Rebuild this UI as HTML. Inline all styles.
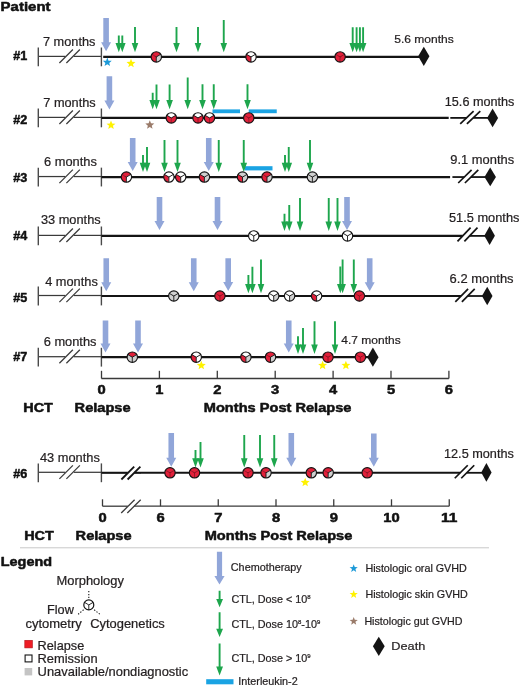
<!DOCTYPE html>
<html><head><meta charset="utf-8"><title>Patient timelines</title>
<style>html,body{margin:0;padding:0;background:#fff;}svg{display:block;}text{fill:#231f20;stroke:#231f20;stroke-width:0.22px;}text[font-weight=bold]{fill:#111;stroke:#111;stroke-width:0.5px;}</style>
</head><body>
<svg width="520" height="687" viewBox="0 0 520 687" font-family="'Liberation Sans', Arial, sans-serif">
<rect width="520" height="687" fill="#ffffff"/>
<text x="0.6" y="11.4" font-size="12.6" font-weight="bold" stroke="#111" stroke-width="0.5" stroke-linejoin="round" textLength="50" lengthAdjust="spacingAndGlyphs" fill="#111">Patient</text>
<line x1="38.3" y1="56.4" x2="65.3" y2="56.4" stroke="#3a3a3a" stroke-width="1.25"/>
<line x1="73.8" y1="56.4" x2="101.3" y2="56.4" stroke="#3a3a3a" stroke-width="1.25"/>
<line x1="59.4" y1="63" x2="72.9" y2="49.5" stroke="#3a3a3a" stroke-width="1.25"/>
<line x1="66.4" y1="63" x2="79.9" y2="49.5" stroke="#3a3a3a" stroke-width="1.25"/>
<line x1="38.3" y1="47.5" x2="38.3" y2="66.3" stroke="#4a4a4a" stroke-width="1.4"/>
<line x1="101.4" y1="47.5" x2="101.4" y2="66.3" stroke="#4a4a4a" stroke-width="1.4"/>
<text x="43" y="45.5" font-size="12.5" textLength="52.4" lengthAdjust="spacingAndGlyphs">7 months</text>
<text x="13.3" y="60.4" font-size="12.6" font-weight="bold" stroke="#111" stroke-width="0.5" stroke-linejoin="round" textLength="14" lengthAdjust="spacingAndGlyphs" fill="#111">#1</text>
<line x1="103.2" y1="56.9" x2="423.8" y2="56.9" stroke="#141414" stroke-width="2.2"/>
<polygon fill="#141414" points="423.8,46.7 429.45,56.3 423.8,65.9 418.15,56.3"/>
<polygon fill="#91a6d9" points="103.3,18 108.9,18 108.9,42.3 111.1,42.3 106.1,51.3 101.1,42.3 103.3,42.3"/>
<polygon fill="#1ea64d" points="117.85,35.4 119.75,35.4 119.75,43 122.1,43 118.8,52.3 115.5,43 117.85,43"/>
<polygon fill="#1ea64d" points="121.35,35.4 123.25,35.4 123.25,43 125.6,43 122.3,52.3 119,43 121.35,43"/>
<polygon fill="#1ea64d" points="134.05,26.9 135.95,26.9 135.95,43 138.3,43 135,52.3 131.7,43 134.05,43"/>
<polygon fill="#1ea64d" points="175.55,27 177.45,27 177.45,43 179.8,43 176.5,52.3 173.2,43 175.55,43"/>
<polygon fill="#1ea64d" points="197.05,27 198.95,27 198.95,43 201.3,43 198,52.3 194.7,43 197.05,43"/>
<polygon fill="#1ea64d" points="222.8,20 224.7,20 224.7,43 227.05,43 223.75,52.3 220.45,43 222.8,43"/>
<polygon fill="#1ea64d" points="351.75,27.2 353.65,27.2 353.65,43 356,43 352.7,52.3 349.4,43 351.75,43"/>
<polygon fill="#1ea64d" points="355.65,27.2 357.55,27.2 357.55,43 359.9,43 356.6,52.3 353.3,43 355.65,43"/>
<polygon fill="#1ea64d" points="358.95,27.2 360.85,27.2 360.85,43 363.2,43 359.9,52.3 356.6,43 358.95,43"/>
<polygon fill="#1ea64d" points="362.15,27.2 364.05,27.2 364.05,43 366.4,43 363.1,52.3 359.8,43 362.15,43"/>
<g>
<path fill="#e2203a" d="M156.3,56.9 L151.8,54.3 A5.2,5.2 0 0 1 160.8,54.3 Z"/>
<path fill="#e2203a" d="M156.3,56.9 L156.3,62.1 A5.2,5.2 0 0 1 151.8,54.3 Z"/>
<path fill="#d0d0d0" d="M156.3,56.9 L160.8,54.3 A5.2,5.2 0 0 1 156.3,62.1 Z"/>
<line x1="156.3" y1="56.9" x2="151.8" y2="54.3" stroke="#8e1222" stroke-width="0.9"/>
<line x1="156.3" y1="56.9" x2="160.8" y2="54.3" stroke="#141414" stroke-width="0.9"/>
<line x1="156.3" y1="56.9" x2="156.3" y2="62.1" stroke="#141414" stroke-width="0.9"/>
<circle cx="156.3" cy="56.9" r="5.2" fill="none" stroke="#141414" stroke-width="1.15"/>
</g>
<g>
<path fill="#ffffff" d="M251,56.9 L246.5,54.3 A5.2,5.2 0 0 1 255.5,54.3 Z"/>
<path fill="#e2203a" d="M251,56.9 L251,62.1 A5.2,5.2 0 0 1 246.5,54.3 Z"/>
<path fill="#ffffff" d="M251,56.9 L255.5,54.3 A5.2,5.2 0 0 1 251,62.1 Z"/>
<line x1="251" y1="56.9" x2="246.5" y2="54.3" stroke="#141414" stroke-width="0.9"/>
<line x1="251" y1="56.9" x2="255.5" y2="54.3" stroke="#141414" stroke-width="0.9"/>
<line x1="251" y1="56.9" x2="251" y2="62.1" stroke="#141414" stroke-width="0.9"/>
<circle cx="251" cy="56.9" r="5.2" fill="none" stroke="#141414" stroke-width="1.15"/>
</g>
<g>
<path fill="#e2203a" d="M340.1,56.9 L335.6,54.3 A5.2,5.2 0 0 1 344.6,54.3 Z"/>
<path fill="#e2203a" d="M340.1,56.9 L340.1,62.1 A5.2,5.2 0 0 1 335.6,54.3 Z"/>
<path fill="#e2203a" d="M340.1,56.9 L344.6,54.3 A5.2,5.2 0 0 1 340.1,62.1 Z"/>
<line x1="340.1" y1="56.9" x2="335.6" y2="54.3" stroke="#8e1222" stroke-width="0.9"/>
<line x1="340.1" y1="56.9" x2="344.6" y2="54.3" stroke="#8e1222" stroke-width="0.9"/>
<line x1="340.1" y1="56.9" x2="340.1" y2="62.1" stroke="#8e1222" stroke-width="0.9"/>
<circle cx="340.1" cy="56.9" r="5.2" fill="none" stroke="#141414" stroke-width="1.15"/>
</g>
<polygon fill="#1d9ad8" points="107.3,57.6 108.5,60.64 111.77,60.85 109.25,62.93 110.06,66.1 107.3,64.35 104.54,66.1 105.35,62.93 102.83,60.85 106.1,60.64"/>
<polygon fill="#fff200" points="131,58.8 132.2,61.84 135.47,62.05 132.95,64.13 133.76,67.3 131,65.55 128.24,67.3 129.05,64.13 126.53,62.05 129.8,61.84"/>
<text x="394.2" y="43.2" font-size="11.6" textLength="59.6" lengthAdjust="spacingAndGlyphs">5.6 months</text>
<line x1="38.3" y1="117.4" x2="65.3" y2="117.4" stroke="#3a3a3a" stroke-width="1.25"/>
<line x1="73.8" y1="117.4" x2="101.3" y2="117.4" stroke="#3a3a3a" stroke-width="1.25"/>
<line x1="59.4" y1="124" x2="72.9" y2="110.5" stroke="#3a3a3a" stroke-width="1.25"/>
<line x1="66.4" y1="124" x2="79.9" y2="110.5" stroke="#3a3a3a" stroke-width="1.25"/>
<line x1="38.3" y1="108.5" x2="38.3" y2="127.3" stroke="#4a4a4a" stroke-width="1.4"/>
<line x1="101.4" y1="108.5" x2="101.4" y2="127.3" stroke="#4a4a4a" stroke-width="1.4"/>
<text x="43.3" y="106.9" font-size="12.5" textLength="52.4" lengthAdjust="spacingAndGlyphs">7 months</text>
<text x="13.3" y="123.8" font-size="12.6" font-weight="bold" stroke="#111" stroke-width="0.5" stroke-linejoin="round" textLength="14" lengthAdjust="spacingAndGlyphs" fill="#111">#2</text>
<line x1="101.4" y1="117.9" x2="448.7" y2="117.9" stroke="#141414" stroke-width="2.2"/>
<line x1="450.3" y1="117.9" x2="466.53" y2="117.9" stroke="#141414" stroke-width="1.8"/>
<line x1="473.23" y1="117.9" x2="492.6" y2="117.9" stroke="#141414" stroke-width="1.8"/>
<line x1="460.2" y1="123.9" x2="473.6" y2="111.2" stroke="#141414" stroke-width="1.7"/>
<line x1="466.9" y1="123.9" x2="480.3" y2="111.2" stroke="#141414" stroke-width="1.7"/>
<polygon fill="#141414" points="492.6,108.5 498.1,117.9 492.6,127.3 487.1,117.9"/>
<rect x="212.5" y="109.4" width="27.5" height="3.8" fill="#1aa3e3"/>
<rect x="248.75" y="109.4" width="28" height="3.8" fill="#1aa3e3"/>
<polygon fill="#91a6d9" points="106.6,76.2 112.2,76.2 112.2,100.4 114.4,100.4 109.4,109.4 104.4,100.4 106.6,100.4"/>
<polygon fill="#1ea64d" points="151.75,92.7 153.65,92.7 153.65,100 156,100 152.7,109.3 149.4,100 151.75,100"/>
<polygon fill="#1ea64d" points="155.55,84.4 157.45,84.4 157.45,100 159.8,100 156.5,109.3 153.2,100 155.55,100"/>
<polygon fill="#1ea64d" points="168.65,84.4 170.55,84.4 170.55,100 172.9,100 169.6,109.3 166.3,100 168.65,100"/>
<polygon fill="#1ea64d" points="186.75,77.4 188.65,77.4 188.65,100 191,100 187.7,109.3 184.4,100 186.75,100"/>
<polygon fill="#1ea64d" points="201.55,84.3 203.45,84.3 203.45,100 205.8,100 202.5,109.3 199.2,100 201.55,100"/>
<polygon fill="#1ea64d" points="212.8,84.3 214.7,84.3 214.7,100 217.05,100 213.75,109.3 210.45,100 212.8,100"/>
<polygon fill="#1ea64d" points="246.55,84.3 248.45,84.3 248.45,100 250.8,100 247.5,109.3 244.2,100 246.55,100"/>
<g>
<path fill="#ffffff" d="M171.3,117.9 L166.8,115.3 A5.2,5.2 0 0 1 175.8,115.3 Z"/>
<path fill="#e2203a" d="M171.3,117.9 L171.3,123.1 A5.2,5.2 0 0 1 166.8,115.3 Z"/>
<path fill="#e2203a" d="M171.3,117.9 L175.8,115.3 A5.2,5.2 0 0 1 171.3,123.1 Z"/>
<line x1="171.3" y1="117.9" x2="166.8" y2="115.3" stroke="#141414" stroke-width="0.9"/>
<line x1="171.3" y1="117.9" x2="175.8" y2="115.3" stroke="#141414" stroke-width="0.9"/>
<line x1="171.3" y1="117.9" x2="171.3" y2="123.1" stroke="#8e1222" stroke-width="0.9"/>
<circle cx="171.3" cy="117.9" r="5.2" fill="none" stroke="#141414" stroke-width="1.15"/>
</g>
<g>
<path fill="#ffffff" d="M198,117.9 L193.5,115.3 A5.2,5.2 0 0 1 202.5,115.3 Z"/>
<path fill="#e2203a" d="M198,117.9 L198,123.1 A5.2,5.2 0 0 1 193.5,115.3 Z"/>
<path fill="#e2203a" d="M198,117.9 L202.5,115.3 A5.2,5.2 0 0 1 198,123.1 Z"/>
<line x1="198" y1="117.9" x2="193.5" y2="115.3" stroke="#141414" stroke-width="0.9"/>
<line x1="198" y1="117.9" x2="202.5" y2="115.3" stroke="#141414" stroke-width="0.9"/>
<line x1="198" y1="117.9" x2="198" y2="123.1" stroke="#8e1222" stroke-width="0.9"/>
<circle cx="198" cy="117.9" r="5.2" fill="none" stroke="#141414" stroke-width="1.15"/>
</g>
<g>
<path fill="#ffffff" d="M209.5,117.9 L205,115.3 A5.2,5.2 0 0 1 214,115.3 Z"/>
<path fill="#e2203a" d="M209.5,117.9 L209.5,123.1 A5.2,5.2 0 0 1 205,115.3 Z"/>
<path fill="#e2203a" d="M209.5,117.9 L214,115.3 A5.2,5.2 0 0 1 209.5,123.1 Z"/>
<line x1="209.5" y1="117.9" x2="205" y2="115.3" stroke="#141414" stroke-width="0.9"/>
<line x1="209.5" y1="117.9" x2="214" y2="115.3" stroke="#141414" stroke-width="0.9"/>
<line x1="209.5" y1="117.9" x2="209.5" y2="123.1" stroke="#8e1222" stroke-width="0.9"/>
<circle cx="209.5" cy="117.9" r="5.2" fill="none" stroke="#141414" stroke-width="1.15"/>
</g>
<g>
<path fill="#e2203a" d="M248.75,117.9 L244.25,115.3 A5.2,5.2 0 0 1 253.25,115.3 Z"/>
<path fill="#e2203a" d="M248.75,117.9 L248.75,123.1 A5.2,5.2 0 0 1 244.25,115.3 Z"/>
<path fill="#e2203a" d="M248.75,117.9 L253.25,115.3 A5.2,5.2 0 0 1 248.75,123.1 Z"/>
<line x1="248.75" y1="117.9" x2="244.25" y2="115.3" stroke="#8e1222" stroke-width="0.9"/>
<line x1="248.75" y1="117.9" x2="253.25" y2="115.3" stroke="#8e1222" stroke-width="0.9"/>
<line x1="248.75" y1="117.9" x2="248.75" y2="123.1" stroke="#8e1222" stroke-width="0.9"/>
<circle cx="248.75" cy="117.9" r="5.2" fill="none" stroke="#141414" stroke-width="1.15"/>
</g>
<polygon fill="#fff200" points="111,120.5 112.2,123.54 115.47,123.75 112.95,125.83 113.76,129 111,127.25 108.24,129 109.05,125.83 106.53,123.75 109.8,123.54"/>
<polygon fill="#9a7b6a" points="149.8,120.3 151,123.34 154.27,123.55 151.75,125.63 152.56,128.8 149.8,127.05 147.04,128.8 147.85,125.63 145.33,123.55 148.6,123.34"/>
<text x="444.8" y="105.8" font-size="12.5" textLength="69.6" lengthAdjust="spacingAndGlyphs">15.6 months</text>
<line x1="38.3" y1="176.55" x2="65.3" y2="176.55" stroke="#3a3a3a" stroke-width="1.25"/>
<line x1="73.8" y1="176.55" x2="101.3" y2="176.55" stroke="#3a3a3a" stroke-width="1.25"/>
<line x1="59.4" y1="183.15" x2="72.9" y2="169.65" stroke="#3a3a3a" stroke-width="1.25"/>
<line x1="66.4" y1="183.15" x2="79.9" y2="169.65" stroke="#3a3a3a" stroke-width="1.25"/>
<line x1="38.3" y1="167.65" x2="38.3" y2="186.45" stroke="#4a4a4a" stroke-width="1.4"/>
<line x1="101.4" y1="167.65" x2="101.4" y2="186.45" stroke="#4a4a4a" stroke-width="1.4"/>
<text x="44" y="165.9" font-size="12.5" textLength="52.8" lengthAdjust="spacingAndGlyphs">6 months</text>
<text x="13.3" y="181.5" font-size="12.6" font-weight="bold" stroke="#111" stroke-width="0.5" stroke-linejoin="round" textLength="14" lengthAdjust="spacingAndGlyphs" fill="#111">#3</text>
<line x1="101.4" y1="177.05" x2="450.1" y2="177.05" stroke="#141414" stroke-width="2.2"/>
<line x1="452.4" y1="177.05" x2="464.29" y2="177.05" stroke="#141414" stroke-width="1.8"/>
<line x1="470.99" y1="177.05" x2="490.2" y2="177.05" stroke="#141414" stroke-width="1.8"/>
<line x1="458.2" y1="183" x2="471.6" y2="169.9" stroke="#141414" stroke-width="1.7"/>
<line x1="464.9" y1="183" x2="478.3" y2="169.9" stroke="#141414" stroke-width="1.7"/>
<polygon fill="#141414" points="490.2,167.5 495.95,176.9 490.2,186.3 484.45,176.9"/>
<rect x="244.5" y="166.2" width="28" height="4.2" fill="#1aa3e3"/>
<polygon fill="#91a6d9" points="129.9,138 135.5,138 135.5,162 137.7,162 132.7,171 127.7,162 129.9,162"/>
<polygon fill="#91a6d9" points="205.95,138 211.55,138 211.55,162 213.75,162 208.75,171 203.75,162 205.95,162"/>
<polygon fill="#1ea64d" points="142.05,155 143.95,155 143.95,162.7 146.3,162.7 143,172 139.7,162.7 142.05,162.7"/>
<polygon fill="#1ea64d" points="146.05,147 147.95,147 147.95,162.7 150.3,162.7 147,172 143.7,162.7 146.05,162.7"/>
<polygon fill="#1ea64d" points="163.55,140 165.45,140 165.45,162.7 167.8,162.7 164.5,172 161.2,162.7 163.55,162.7"/>
<polygon fill="#1ea64d" points="176.55,140 178.45,140 178.45,162.7 180.8,162.7 177.5,172 174.2,162.7 176.55,162.7"/>
<polygon fill="#1ea64d" points="217.8,140 219.7,140 219.7,162.7 222.05,162.7 218.75,172 215.45,162.7 217.8,162.7"/>
<polygon fill="#1ea64d" points="242.8,140 244.7,140 244.7,162.7 247.05,162.7 243.75,172 240.45,162.7 242.8,162.7"/>
<polygon fill="#1ea64d" points="284.05,155 285.95,155 285.95,162.7 288.3,162.7 285,172 281.7,162.7 284.05,162.7"/>
<polygon fill="#1ea64d" points="287.8,147 289.7,147 289.7,162.7 292.05,162.7 288.75,172 285.45,162.7 287.8,162.7"/>
<polygon fill="#1ea64d" points="309.05,140 310.95,140 310.95,162.7 313.3,162.7 310,172 306.7,162.7 309.05,162.7"/>
<g>
<path fill="#e2203a" d="M126.4,177.05 L121.9,174.45 A5.2,5.2 0 0 1 130.9,174.45 Z"/>
<path fill="#e2203a" d="M126.4,177.05 L126.4,182.25 A5.2,5.2 0 0 1 121.9,174.45 Z"/>
<path fill="#ffffff" d="M126.4,177.05 L130.9,174.45 A5.2,5.2 0 0 1 126.4,182.25 Z"/>
<line x1="126.4" y1="177.05" x2="121.9" y2="174.45" stroke="#8e1222" stroke-width="0.9"/>
<line x1="126.4" y1="177.05" x2="130.9" y2="174.45" stroke="#141414" stroke-width="0.9"/>
<line x1="126.4" y1="177.05" x2="126.4" y2="182.25" stroke="#141414" stroke-width="0.9"/>
<circle cx="126.4" cy="177.05" r="5.2" fill="none" stroke="#141414" stroke-width="1.15"/>
</g>
<g>
<path fill="#ffffff" d="M168.9,177.05 L164.4,174.45 A5.2,5.2 0 0 1 173.4,174.45 Z"/>
<path fill="#e2203a" d="M168.9,177.05 L168.9,182.25 A5.2,5.2 0 0 1 164.4,174.45 Z"/>
<path fill="#ffffff" d="M168.9,177.05 L173.4,174.45 A5.2,5.2 0 0 1 168.9,182.25 Z"/>
<line x1="168.9" y1="177.05" x2="164.4" y2="174.45" stroke="#141414" stroke-width="0.9"/>
<line x1="168.9" y1="177.05" x2="173.4" y2="174.45" stroke="#141414" stroke-width="0.9"/>
<line x1="168.9" y1="177.05" x2="168.9" y2="182.25" stroke="#141414" stroke-width="0.9"/>
<circle cx="168.9" cy="177.05" r="5.2" fill="none" stroke="#141414" stroke-width="1.15"/>
</g>
<g>
<path fill="#ffffff" d="M180.7,177.05 L176.2,174.45 A5.2,5.2 0 0 1 185.2,174.45 Z"/>
<path fill="#e2203a" d="M180.7,177.05 L180.7,182.25 A5.2,5.2 0 0 1 176.2,174.45 Z"/>
<path fill="#ffffff" d="M180.7,177.05 L185.2,174.45 A5.2,5.2 0 0 1 180.7,182.25 Z"/>
<line x1="180.7" y1="177.05" x2="176.2" y2="174.45" stroke="#141414" stroke-width="0.9"/>
<line x1="180.7" y1="177.05" x2="185.2" y2="174.45" stroke="#141414" stroke-width="0.9"/>
<line x1="180.7" y1="177.05" x2="180.7" y2="182.25" stroke="#141414" stroke-width="0.9"/>
<circle cx="180.7" cy="177.05" r="5.2" fill="none" stroke="#141414" stroke-width="1.15"/>
</g>
<g>
<path fill="#d0d0d0" d="M204.4,177.05 L199.9,174.45 A5.2,5.2 0 0 1 208.9,174.45 Z"/>
<path fill="#e2203a" d="M204.4,177.05 L204.4,182.25 A5.2,5.2 0 0 1 199.9,174.45 Z"/>
<path fill="#d0d0d0" d="M204.4,177.05 L208.9,174.45 A5.2,5.2 0 0 1 204.4,182.25 Z"/>
<line x1="204.4" y1="177.05" x2="199.9" y2="174.45" stroke="#141414" stroke-width="0.9"/>
<line x1="204.4" y1="177.05" x2="208.9" y2="174.45" stroke="#141414" stroke-width="0.9"/>
<line x1="204.4" y1="177.05" x2="204.4" y2="182.25" stroke="#141414" stroke-width="0.9"/>
<circle cx="204.4" cy="177.05" r="5.2" fill="none" stroke="#141414" stroke-width="1.15"/>
</g>
<g>
<path fill="#d0d0d0" d="M242.5,177.05 L238,174.45 A5.2,5.2 0 0 1 247,174.45 Z"/>
<path fill="#e2203a" d="M242.5,177.05 L242.5,182.25 A5.2,5.2 0 0 1 238,174.45 Z"/>
<path fill="#d0d0d0" d="M242.5,177.05 L247,174.45 A5.2,5.2 0 0 1 242.5,182.25 Z"/>
<line x1="242.5" y1="177.05" x2="238" y2="174.45" stroke="#141414" stroke-width="0.9"/>
<line x1="242.5" y1="177.05" x2="247" y2="174.45" stroke="#141414" stroke-width="0.9"/>
<line x1="242.5" y1="177.05" x2="242.5" y2="182.25" stroke="#141414" stroke-width="0.9"/>
<circle cx="242.5" cy="177.05" r="5.2" fill="none" stroke="#141414" stroke-width="1.15"/>
</g>
<g>
<path fill="#e2203a" d="M267,177.05 L262.5,174.45 A5.2,5.2 0 0 1 271.5,174.45 Z"/>
<path fill="#e2203a" d="M267,177.05 L267,182.25 A5.2,5.2 0 0 1 262.5,174.45 Z"/>
<path fill="#d0d0d0" d="M267,177.05 L271.5,174.45 A5.2,5.2 0 0 1 267,182.25 Z"/>
<line x1="267" y1="177.05" x2="262.5" y2="174.45" stroke="#8e1222" stroke-width="0.9"/>
<line x1="267" y1="177.05" x2="271.5" y2="174.45" stroke="#141414" stroke-width="0.9"/>
<line x1="267" y1="177.05" x2="267" y2="182.25" stroke="#141414" stroke-width="0.9"/>
<circle cx="267" cy="177.05" r="5.2" fill="none" stroke="#141414" stroke-width="1.15"/>
</g>
<g>
<path fill="#d0d0d0" d="M312.4,177.05 L307.9,174.45 A5.2,5.2 0 0 1 316.9,174.45 Z"/>
<path fill="#d0d0d0" d="M312.4,177.05 L312.4,182.25 A5.2,5.2 0 0 1 307.9,174.45 Z"/>
<path fill="#d0d0d0" d="M312.4,177.05 L316.9,174.45 A5.2,5.2 0 0 1 312.4,182.25 Z"/>
<line x1="312.4" y1="177.05" x2="307.9" y2="174.45" stroke="#141414" stroke-width="0.9"/>
<line x1="312.4" y1="177.05" x2="316.9" y2="174.45" stroke="#141414" stroke-width="0.9"/>
<line x1="312.4" y1="177.05" x2="312.4" y2="182.25" stroke="#141414" stroke-width="0.9"/>
<circle cx="312.4" cy="177.05" r="5.2" fill="none" stroke="#141414" stroke-width="1.15"/>
</g>
<text x="450.3" y="164.2" font-size="12.5" textLength="63.8" lengthAdjust="spacingAndGlyphs">9.1 months</text>
<line x1="38.3" y1="235.4" x2="65.3" y2="235.4" stroke="#3a3a3a" stroke-width="1.25"/>
<line x1="73.8" y1="235.4" x2="101.3" y2="235.4" stroke="#3a3a3a" stroke-width="1.25"/>
<line x1="59.4" y1="242" x2="72.9" y2="228.5" stroke="#3a3a3a" stroke-width="1.25"/>
<line x1="66.4" y1="242" x2="79.9" y2="228.5" stroke="#3a3a3a" stroke-width="1.25"/>
<line x1="38.3" y1="226.5" x2="38.3" y2="245.3" stroke="#4a4a4a" stroke-width="1.4"/>
<line x1="101.4" y1="226.5" x2="101.4" y2="245.3" stroke="#4a4a4a" stroke-width="1.4"/>
<text x="40.9" y="224.4" font-size="12.5" textLength="59.8" lengthAdjust="spacingAndGlyphs">33 months</text>
<text x="13.3" y="239.5" font-size="12.6" font-weight="bold" stroke="#111" stroke-width="0.5" stroke-linejoin="round" textLength="14" lengthAdjust="spacingAndGlyphs" fill="#111">#4</text>
<line x1="101.4" y1="235.9" x2="462.72" y2="235.9" stroke="#141414" stroke-width="2.1"/>
<line x1="469.62" y1="235.9" x2="489.6" y2="235.9" stroke="#141414" stroke-width="1.8"/>
<line x1="457.5" y1="241.4" x2="470.6" y2="227.6" stroke="#141414" stroke-width="1.7"/>
<line x1="464.4" y1="241.4" x2="477.5" y2="227.6" stroke="#141414" stroke-width="1.7"/>
<polygon fill="#141414" points="489.6,226.35 494.9,235.7 489.6,245.05 484.3,235.7"/>
<polygon fill="#91a6d9" points="156.7,197 162.3,197 162.3,221 164.5,221 159.5,230 154.5,221 156.7,221"/>
<polygon fill="#91a6d9" points="214.7,197 220.3,197 220.3,221 222.5,221 217.5,230 212.5,221 214.7,221"/>
<polygon fill="#91a6d9" points="344.2,197 349.8,197 349.8,221 352,221 347,230 342,221 344.2,221"/>
<polygon fill="#1ea64d" points="283.55,213.8 285.45,213.8 285.45,221.6 287.8,221.6 284.5,230.9 281.2,221.6 283.55,221.6"/>
<polygon fill="#1ea64d" points="288.3,205 290.2,205 290.2,221.6 292.55,221.6 289.25,230.9 285.95,221.6 288.3,221.6"/>
<polygon fill="#1ea64d" points="299.05,198 300.95,198 300.95,221.6 303.3,221.6 300,230.9 296.7,221.6 299.05,221.6"/>
<polygon fill="#1ea64d" points="327.8,198 329.7,198 329.7,221.6 332.05,221.6 328.75,230.9 325.45,221.6 327.8,221.6"/>
<polygon fill="#1ea64d" points="336.55,198 338.45,198 338.45,221.6 340.8,221.6 337.5,230.9 334.2,221.6 336.55,221.6"/>
<g>
<path fill="#ffffff" d="M253.75,235.9 L249.25,233.3 A5.2,5.2 0 0 1 258.25,233.3 Z"/>
<path fill="#ffffff" d="M253.75,235.9 L253.75,241.1 A5.2,5.2 0 0 1 249.25,233.3 Z"/>
<path fill="#ffffff" d="M253.75,235.9 L258.25,233.3 A5.2,5.2 0 0 1 253.75,241.1 Z"/>
<line x1="253.75" y1="235.9" x2="249.25" y2="233.3" stroke="#141414" stroke-width="0.9"/>
<line x1="253.75" y1="235.9" x2="258.25" y2="233.3" stroke="#141414" stroke-width="0.9"/>
<line x1="253.75" y1="235.9" x2="253.75" y2="241.1" stroke="#141414" stroke-width="0.9"/>
<circle cx="253.75" cy="235.9" r="5.2" fill="none" stroke="#141414" stroke-width="1.15"/>
</g>
<g>
<path fill="#ffffff" d="M347.5,235.9 L343,233.3 A5.2,5.2 0 0 1 352,233.3 Z"/>
<path fill="#ffffff" d="M347.5,235.9 L347.5,241.1 A5.2,5.2 0 0 1 343,233.3 Z"/>
<path fill="#ffffff" d="M347.5,235.9 L352,233.3 A5.2,5.2 0 0 1 347.5,241.1 Z"/>
<line x1="347.5" y1="235.9" x2="343" y2="233.3" stroke="#141414" stroke-width="0.9"/>
<line x1="347.5" y1="235.9" x2="352" y2="233.3" stroke="#141414" stroke-width="0.9"/>
<line x1="347.5" y1="235.9" x2="347.5" y2="241.1" stroke="#141414" stroke-width="0.9"/>
<circle cx="347.5" cy="235.9" r="5.2" fill="none" stroke="#141414" stroke-width="1.15"/>
</g>
<text x="449" y="222" font-size="12.5" textLength="70.4" lengthAdjust="spacingAndGlyphs">51.5 months</text>
<line x1="38.3" y1="295.5" x2="65.3" y2="295.5" stroke="#3a3a3a" stroke-width="1.25"/>
<line x1="73.8" y1="295.5" x2="101.3" y2="295.5" stroke="#3a3a3a" stroke-width="1.25"/>
<line x1="59.4" y1="302.1" x2="72.9" y2="288.6" stroke="#3a3a3a" stroke-width="1.25"/>
<line x1="66.4" y1="302.1" x2="79.9" y2="288.6" stroke="#3a3a3a" stroke-width="1.25"/>
<line x1="38.3" y1="286.6" x2="38.3" y2="305.4" stroke="#4a4a4a" stroke-width="1.4"/>
<line x1="101.4" y1="286.6" x2="101.4" y2="305.4" stroke="#4a4a4a" stroke-width="1.4"/>
<text x="45.2" y="285.5" font-size="12.5" textLength="52.6" lengthAdjust="spacingAndGlyphs">4 months</text>
<text x="13.3" y="301.5" font-size="12.6" font-weight="bold" stroke="#111" stroke-width="0.5" stroke-linejoin="round" textLength="14" lengthAdjust="spacingAndGlyphs" fill="#111">#5</text>
<line x1="101.4" y1="296" x2="461.06" y2="296" stroke="#141414" stroke-width="2.1"/>
<line x1="467.66" y1="296" x2="487.2" y2="296" stroke="#141414" stroke-width="1.8"/>
<line x1="455.3" y1="301.8" x2="468.1" y2="288.9" stroke="#141414" stroke-width="1.7"/>
<line x1="461.9" y1="301.8" x2="474.7" y2="288.9" stroke="#141414" stroke-width="1.7"/>
<polygon fill="#141414" points="487.2,286.85 492.5,296 487.2,305.15 481.9,296"/>
<polygon fill="#91a6d9" points="103.45,258.3 109.05,258.3 109.05,282.2 111.25,282.2 106.25,291.2 101.25,282.2 103.45,282.2"/>
<polygon fill="#91a6d9" points="190.95,258.3 196.55,258.3 196.55,282.2 198.75,282.2 193.75,291.2 188.75,282.2 190.95,282.2"/>
<polygon fill="#91a6d9" points="225.4,258.3 231,258.3 231,282 233.2,282 228.2,291 223.2,282 225.4,282"/>
<polygon fill="#91a6d9" points="366.9,258.3 372.5,258.3 372.5,282.2 374.7,282.2 369.7,291.2 364.7,282.2 366.9,282.2"/>
<polygon fill="#1ea64d" points="247.45,275.1 249.35,275.1 249.35,283.9 251.7,283.9 248.4,293.2 245.1,283.9 247.45,283.9"/>
<polygon fill="#1ea64d" points="251.45,266.8 253.35,266.8 253.35,283.9 255.7,283.9 252.4,293.2 249.1,283.9 251.45,283.9"/>
<polygon fill="#1ea64d" points="260.05,259.5 261.95,259.5 261.95,283.9 264.3,283.9 261,293.2 257.7,283.9 260.05,283.9"/>
<polygon fill="#1ea64d" points="339.35,266.4 341.25,266.4 341.25,283.9 343.6,283.9 340.3,293.2 337,283.9 339.35,283.9"/>
<polygon fill="#1ea64d" points="341.65,259.5 343.55,259.5 343.55,283.9 345.9,283.9 342.6,293.2 339.3,283.9 341.65,283.9"/>
<polygon fill="#1ea64d" points="352.85,259.5 354.75,259.5 354.75,283.9 357.1,283.9 353.8,293.2 350.5,283.9 352.85,283.9"/>
<g>
<path fill="#d0d0d0" d="M173.8,296 L169.3,293.4 A5.2,5.2 0 0 1 178.3,293.4 Z"/>
<path fill="#d0d0d0" d="M173.8,296 L173.8,301.2 A5.2,5.2 0 0 1 169.3,293.4 Z"/>
<path fill="#d0d0d0" d="M173.8,296 L178.3,293.4 A5.2,5.2 0 0 1 173.8,301.2 Z"/>
<line x1="173.8" y1="296" x2="169.3" y2="293.4" stroke="#141414" stroke-width="0.9"/>
<line x1="173.8" y1="296" x2="178.3" y2="293.4" stroke="#141414" stroke-width="0.9"/>
<line x1="173.8" y1="296" x2="173.8" y2="301.2" stroke="#141414" stroke-width="0.9"/>
<circle cx="173.8" cy="296" r="5.2" fill="none" stroke="#141414" stroke-width="1.15"/>
</g>
<g>
<path fill="#e2203a" d="M219.9,296 L215.4,293.4 A5.2,5.2 0 0 1 224.4,293.4 Z"/>
<path fill="#e2203a" d="M219.9,296 L219.9,301.2 A5.2,5.2 0 0 1 215.4,293.4 Z"/>
<path fill="#e2203a" d="M219.9,296 L224.4,293.4 A5.2,5.2 0 0 1 219.9,301.2 Z"/>
<line x1="219.9" y1="296" x2="215.4" y2="293.4" stroke="#8e1222" stroke-width="0.9"/>
<line x1="219.9" y1="296" x2="224.4" y2="293.4" stroke="#8e1222" stroke-width="0.9"/>
<line x1="219.9" y1="296" x2="219.9" y2="301.2" stroke="#8e1222" stroke-width="0.9"/>
<circle cx="219.9" cy="296" r="5.2" fill="none" stroke="#141414" stroke-width="1.15"/>
</g>
<g>
<path fill="#ffffff" d="M273.7,296 L269.2,293.4 A5.2,5.2 0 0 1 278.2,293.4 Z"/>
<path fill="#ffffff" d="M273.7,296 L273.7,301.2 A5.2,5.2 0 0 1 269.2,293.4 Z"/>
<path fill="#d0d0d0" d="M273.7,296 L278.2,293.4 A5.2,5.2 0 0 1 273.7,301.2 Z"/>
<line x1="273.7" y1="296" x2="269.2" y2="293.4" stroke="#141414" stroke-width="0.9"/>
<line x1="273.7" y1="296" x2="278.2" y2="293.4" stroke="#141414" stroke-width="0.9"/>
<line x1="273.7" y1="296" x2="273.7" y2="301.2" stroke="#141414" stroke-width="0.9"/>
<circle cx="273.7" cy="296" r="5.2" fill="none" stroke="#141414" stroke-width="1.15"/>
</g>
<g>
<path fill="#ffffff" d="M289.6,296 L285.1,293.4 A5.2,5.2 0 0 1 294.1,293.4 Z"/>
<path fill="#ffffff" d="M289.6,296 L289.6,301.2 A5.2,5.2 0 0 1 285.1,293.4 Z"/>
<path fill="#d0d0d0" d="M289.6,296 L294.1,293.4 A5.2,5.2 0 0 1 289.6,301.2 Z"/>
<line x1="289.6" y1="296" x2="285.1" y2="293.4" stroke="#141414" stroke-width="0.9"/>
<line x1="289.6" y1="296" x2="294.1" y2="293.4" stroke="#141414" stroke-width="0.9"/>
<line x1="289.6" y1="296" x2="289.6" y2="301.2" stroke="#141414" stroke-width="0.9"/>
<circle cx="289.6" cy="296" r="5.2" fill="none" stroke="#141414" stroke-width="1.15"/>
</g>
<g>
<path fill="#ffffff" d="M316.6,296 L312.1,293.4 A5.2,5.2 0 0 1 321.1,293.4 Z"/>
<path fill="#e2203a" d="M316.6,296 L316.6,301.2 A5.2,5.2 0 0 1 312.1,293.4 Z"/>
<path fill="#ffffff" d="M316.6,296 L321.1,293.4 A5.2,5.2 0 0 1 316.6,301.2 Z"/>
<line x1="316.6" y1="296" x2="312.1" y2="293.4" stroke="#141414" stroke-width="0.9"/>
<line x1="316.6" y1="296" x2="321.1" y2="293.4" stroke="#141414" stroke-width="0.9"/>
<line x1="316.6" y1="296" x2="316.6" y2="301.2" stroke="#141414" stroke-width="0.9"/>
<circle cx="316.6" cy="296" r="5.2" fill="none" stroke="#141414" stroke-width="1.15"/>
</g>
<g>
<path fill="#e2203a" d="M359.4,296 L354.9,293.4 A5.2,5.2 0 0 1 363.9,293.4 Z"/>
<path fill="#e2203a" d="M359.4,296 L359.4,301.2 A5.2,5.2 0 0 1 354.9,293.4 Z"/>
<path fill="#e2203a" d="M359.4,296 L363.9,293.4 A5.2,5.2 0 0 1 359.4,301.2 Z"/>
<line x1="359.4" y1="296" x2="354.9" y2="293.4" stroke="#8e1222" stroke-width="0.9"/>
<line x1="359.4" y1="296" x2="363.9" y2="293.4" stroke="#8e1222" stroke-width="0.9"/>
<line x1="359.4" y1="296" x2="359.4" y2="301.2" stroke="#8e1222" stroke-width="0.9"/>
<circle cx="359.4" cy="296" r="5.2" fill="none" stroke="#141414" stroke-width="1.15"/>
</g>
<text x="449.6" y="283.1" font-size="12.5" textLength="64" lengthAdjust="spacingAndGlyphs">6.2 months</text>
<line x1="38.3" y1="356.7" x2="65.3" y2="356.7" stroke="#3a3a3a" stroke-width="1.25"/>
<line x1="73.8" y1="356.7" x2="101.3" y2="356.7" stroke="#3a3a3a" stroke-width="1.25"/>
<line x1="59.4" y1="363.3" x2="72.9" y2="349.8" stroke="#3a3a3a" stroke-width="1.25"/>
<line x1="66.4" y1="363.3" x2="79.9" y2="349.8" stroke="#3a3a3a" stroke-width="1.25"/>
<line x1="38.3" y1="347.8" x2="38.3" y2="366.6" stroke="#4a4a4a" stroke-width="1.4"/>
<line x1="101.4" y1="347.8" x2="101.4" y2="366.6" stroke="#4a4a4a" stroke-width="1.4"/>
<text x="43.7" y="345.7" font-size="12.5" textLength="52.8" lengthAdjust="spacingAndGlyphs">6 months</text>
<text x="13.3" y="360.8" font-size="12.6" font-weight="bold" stroke="#111" stroke-width="0.5" stroke-linejoin="round" textLength="14" lengthAdjust="spacingAndGlyphs" fill="#111">#7</text>
<line x1="101.4" y1="357.2" x2="372.9" y2="357.2" stroke="#141414" stroke-width="2.2"/>
<polygon fill="#141414" points="372.9,347.6 378.55,357.2 372.9,366.8 367.25,357.2"/>
<polygon fill="#91a6d9" points="102.7,320.5 108.3,320.5 108.3,343.5 110.5,343.5 105.5,352.5 100.5,343.5 102.7,343.5"/>
<polygon fill="#91a6d9" points="135.2,320.5 140.8,320.5 140.8,343.5 143,343.5 138,352.5 133,343.5 135.2,343.5"/>
<polygon fill="#91a6d9" points="285.95,320.5 291.55,320.5 291.55,343.5 293.75,343.5 288.75,352.5 283.75,343.5 285.95,343.5"/>
<polygon fill="#1ea64d" points="297.05,336.3 298.95,336.3 298.95,344.6 301.3,344.6 298,353.9 294.7,344.6 297.05,344.6"/>
<polygon fill="#1ea64d" points="302.05,328 303.95,328 303.95,344.6 306.3,344.6 303,353.9 299.7,344.6 302.05,344.6"/>
<polygon fill="#1ea64d" points="313.55,321.3 315.45,321.3 315.45,344.6 317.8,344.6 314.5,353.9 311.2,344.6 313.55,344.6"/>
<polygon fill="#1ea64d" points="334.05,321.2 335.95,321.2 335.95,344.6 338.3,344.6 335,353.9 331.7,344.6 334.05,344.6"/>
<g>
<path fill="#e2203a" d="M132.3,357.2 L127.8,354.6 A5.2,5.2 0 0 1 136.8,354.6 Z"/>
<path fill="#d0d0d0" d="M132.3,357.2 L132.3,362.4 A5.2,5.2 0 0 1 127.8,354.6 Z"/>
<path fill="#d0d0d0" d="M132.3,357.2 L136.8,354.6 A5.2,5.2 0 0 1 132.3,362.4 Z"/>
<line x1="132.3" y1="357.2" x2="127.8" y2="354.6" stroke="#141414" stroke-width="0.9"/>
<line x1="132.3" y1="357.2" x2="136.8" y2="354.6" stroke="#141414" stroke-width="0.9"/>
<line x1="132.3" y1="357.2" x2="132.3" y2="362.4" stroke="#141414" stroke-width="0.9"/>
<circle cx="132.3" cy="357.2" r="5.2" fill="none" stroke="#141414" stroke-width="1.15"/>
</g>
<g>
<path fill="#ffffff" d="M196.25,357.2 L191.75,354.6 A5.2,5.2 0 0 1 200.75,354.6 Z"/>
<path fill="#e2203a" d="M196.25,357.2 L196.25,362.4 A5.2,5.2 0 0 1 191.75,354.6 Z"/>
<path fill="#ffffff" d="M196.25,357.2 L200.75,354.6 A5.2,5.2 0 0 1 196.25,362.4 Z"/>
<line x1="196.25" y1="357.2" x2="191.75" y2="354.6" stroke="#141414" stroke-width="0.9"/>
<line x1="196.25" y1="357.2" x2="200.75" y2="354.6" stroke="#141414" stroke-width="0.9"/>
<line x1="196.25" y1="357.2" x2="196.25" y2="362.4" stroke="#141414" stroke-width="0.9"/>
<circle cx="196.25" cy="357.2" r="5.2" fill="none" stroke="#141414" stroke-width="1.15"/>
</g>
<g>
<path fill="#ffffff" d="M245.9,357.2 L241.4,354.6 A5.2,5.2 0 0 1 250.4,354.6 Z"/>
<path fill="#e2203a" d="M245.9,357.2 L245.9,362.4 A5.2,5.2 0 0 1 241.4,354.6 Z"/>
<path fill="#d0d0d0" d="M245.9,357.2 L250.4,354.6 A5.2,5.2 0 0 1 245.9,362.4 Z"/>
<line x1="245.9" y1="357.2" x2="241.4" y2="354.6" stroke="#141414" stroke-width="0.9"/>
<line x1="245.9" y1="357.2" x2="250.4" y2="354.6" stroke="#141414" stroke-width="0.9"/>
<line x1="245.9" y1="357.2" x2="245.9" y2="362.4" stroke="#141414" stroke-width="0.9"/>
<circle cx="245.9" cy="357.2" r="5.2" fill="none" stroke="#141414" stroke-width="1.15"/>
</g>
<g>
<path fill="#e2203a" d="M270.5,357.2 L266,354.6 A5.2,5.2 0 0 1 275,354.6 Z"/>
<path fill="#e2203a" d="M270.5,357.2 L270.5,362.4 A5.2,5.2 0 0 1 266,354.6 Z"/>
<path fill="#d0d0d0" d="M270.5,357.2 L275,354.6 A5.2,5.2 0 0 1 270.5,362.4 Z"/>
<line x1="270.5" y1="357.2" x2="266" y2="354.6" stroke="#8e1222" stroke-width="0.9"/>
<line x1="270.5" y1="357.2" x2="275" y2="354.6" stroke="#141414" stroke-width="0.9"/>
<line x1="270.5" y1="357.2" x2="270.5" y2="362.4" stroke="#141414" stroke-width="0.9"/>
<circle cx="270.5" cy="357.2" r="5.2" fill="none" stroke="#141414" stroke-width="1.15"/>
</g>
<g>
<path fill="#e2203a" d="M328,357.2 L323.5,354.6 A5.2,5.2 0 0 1 332.5,354.6 Z"/>
<path fill="#e2203a" d="M328,357.2 L328,362.4 A5.2,5.2 0 0 1 323.5,354.6 Z"/>
<path fill="#e2203a" d="M328,357.2 L332.5,354.6 A5.2,5.2 0 0 1 328,362.4 Z"/>
<line x1="328" y1="357.2" x2="323.5" y2="354.6" stroke="#8e1222" stroke-width="0.9"/>
<line x1="328" y1="357.2" x2="332.5" y2="354.6" stroke="#8e1222" stroke-width="0.9"/>
<line x1="328" y1="357.2" x2="328" y2="362.4" stroke="#8e1222" stroke-width="0.9"/>
<circle cx="328" cy="357.2" r="5.2" fill="none" stroke="#141414" stroke-width="1.15"/>
</g>
<g>
<path fill="#e2203a" d="M360.4,357.2 L355.9,354.6 A5.2,5.2 0 0 1 364.9,354.6 Z"/>
<path fill="#e2203a" d="M360.4,357.2 L360.4,362.4 A5.2,5.2 0 0 1 355.9,354.6 Z"/>
<path fill="#e2203a" d="M360.4,357.2 L364.9,354.6 A5.2,5.2 0 0 1 360.4,362.4 Z"/>
<line x1="360.4" y1="357.2" x2="355.9" y2="354.6" stroke="#8e1222" stroke-width="0.9"/>
<line x1="360.4" y1="357.2" x2="364.9" y2="354.6" stroke="#8e1222" stroke-width="0.9"/>
<line x1="360.4" y1="357.2" x2="360.4" y2="362.4" stroke="#8e1222" stroke-width="0.9"/>
<circle cx="360.4" cy="357.2" r="5.2" fill="none" stroke="#141414" stroke-width="1.15"/>
</g>
<polygon fill="#fff200" points="201.3,360.8 202.5,363.84 205.77,364.05 203.25,366.13 204.06,369.3 201.3,367.55 198.54,369.3 199.35,366.13 196.83,364.05 200.1,363.84"/>
<polygon fill="#fff200" points="322.6,360.7 323.8,363.74 327.07,363.95 324.55,366.03 325.36,369.2 322.6,367.45 319.84,369.2 320.65,366.03 318.13,363.95 321.4,363.74"/>
<polygon fill="#fff200" points="345.9,360.7 347.1,363.74 350.37,363.95 347.85,366.03 348.66,369.2 345.9,367.45 343.14,369.2 343.95,366.03 341.43,363.95 344.7,363.74"/>
<text x="341.3" y="344.1" font-size="11.6" textLength="59.4" lengthAdjust="spacingAndGlyphs">4.7 months</text>
<line x1="101.4" y1="378.5" x2="448.9" y2="378.5" stroke="#3a3a3a" stroke-width="1.3"/>
<line x1="101.5" y1="370.8" x2="101.5" y2="378.5" stroke="#3a3a3a" stroke-width="1.3"/>
<text x="101.5" y="394.3" font-size="12.6" font-weight="bold" stroke="#111" stroke-width="0.5" stroke-linejoin="round" textLength="8.2" lengthAdjust="spacingAndGlyphs" text-anchor="middle" fill="#111">0</text>
<line x1="159.4" y1="370.8" x2="159.4" y2="378.5" stroke="#3a3a3a" stroke-width="1.3"/>
<text x="159.4" y="394.3" font-size="12.6" font-weight="bold" stroke="#111" stroke-width="0.5" stroke-linejoin="round" textLength="8.2" lengthAdjust="spacingAndGlyphs" text-anchor="middle" fill="#111">1</text>
<line x1="217.3" y1="370.8" x2="217.3" y2="378.5" stroke="#3a3a3a" stroke-width="1.3"/>
<text x="217.3" y="394.3" font-size="12.6" font-weight="bold" stroke="#111" stroke-width="0.5" stroke-linejoin="round" textLength="8.2" lengthAdjust="spacingAndGlyphs" text-anchor="middle" fill="#111">2</text>
<line x1="275.2" y1="370.8" x2="275.2" y2="378.5" stroke="#3a3a3a" stroke-width="1.3"/>
<text x="275.2" y="394.3" font-size="12.6" font-weight="bold" stroke="#111" stroke-width="0.5" stroke-linejoin="round" textLength="8.2" lengthAdjust="spacingAndGlyphs" text-anchor="middle" fill="#111">3</text>
<line x1="333.1" y1="370.8" x2="333.1" y2="378.5" stroke="#3a3a3a" stroke-width="1.3"/>
<text x="333.1" y="394.3" font-size="12.6" font-weight="bold" stroke="#111" stroke-width="0.5" stroke-linejoin="round" textLength="8.2" lengthAdjust="spacingAndGlyphs" text-anchor="middle" fill="#111">4</text>
<line x1="391" y1="370.8" x2="391" y2="378.5" stroke="#3a3a3a" stroke-width="1.3"/>
<text x="391" y="394.3" font-size="12.6" font-weight="bold" stroke="#111" stroke-width="0.5" stroke-linejoin="round" textLength="8.2" lengthAdjust="spacingAndGlyphs" text-anchor="middle" fill="#111">5</text>
<line x1="448.9" y1="370.8" x2="448.9" y2="378.5" stroke="#3a3a3a" stroke-width="1.3"/>
<text x="448.9" y="394.3" font-size="12.6" font-weight="bold" stroke="#111" stroke-width="0.5" stroke-linejoin="round" textLength="8.2" lengthAdjust="spacingAndGlyphs" text-anchor="middle" fill="#111">6</text>
<text x="23.3" y="412.3" font-size="12.6" font-weight="bold" stroke="#111" stroke-width="0.5" stroke-linejoin="round" textLength="29.6" lengthAdjust="spacingAndGlyphs" fill="#111">HCT</text>
<text x="74.6" y="412" font-size="12.6" font-weight="bold" stroke="#111" stroke-width="0.5" stroke-linejoin="round" textLength="56" lengthAdjust="spacingAndGlyphs" fill="#111">Relapse</text>
<text x="203.8" y="412.4" font-size="12.6" font-weight="bold" stroke="#111" stroke-width="0.5" stroke-linejoin="round" textLength="147.6" lengthAdjust="spacingAndGlyphs" fill="#111">Months Post Relapse</text>
<line x1="38.3" y1="472.3" x2="65.3" y2="472.3" stroke="#3a3a3a" stroke-width="1.25"/>
<line x1="73.8" y1="472.3" x2="101.3" y2="472.3" stroke="#3a3a3a" stroke-width="1.25"/>
<line x1="59.4" y1="478.9" x2="72.9" y2="465.4" stroke="#3a3a3a" stroke-width="1.25"/>
<line x1="66.4" y1="478.9" x2="79.9" y2="465.4" stroke="#3a3a3a" stroke-width="1.25"/>
<line x1="38.3" y1="463.4" x2="38.3" y2="482.2" stroke="#4a4a4a" stroke-width="1.4"/>
<line x1="101.4" y1="463.4" x2="101.4" y2="482.2" stroke="#4a4a4a" stroke-width="1.4"/>
<text x="40" y="461.7" font-size="12.5" textLength="59.8" lengthAdjust="spacingAndGlyphs">43 months</text>
<text x="13.3" y="477.6" font-size="12.6" font-weight="bold" stroke="#111" stroke-width="0.5" stroke-linejoin="round" textLength="14" lengthAdjust="spacingAndGlyphs" fill="#111">#6</text>
<line x1="141" y1="472.8" x2="460.2" y2="472.8" stroke="#141414" stroke-width="2.1"/>
<line x1="466.7" y1="472.8" x2="486.4" y2="472.8" stroke="#141414" stroke-width="1.8"/>
<line x1="454.75" y1="478.25" x2="467.75" y2="465.25" stroke="#141414" stroke-width="1.7"/>
<line x1="461.25" y1="478.25" x2="474.25" y2="465.25" stroke="#141414" stroke-width="1.7"/>
<polygon fill="#141414" points="486.4,463 491.6,472.4 486.4,481.8 481.2,472.4"/>
<line x1="101.4" y1="472.8" x2="127.8" y2="472.8" stroke="#141414" stroke-width="2.1"/>
<line x1="134.2" y1="472.8" x2="141" y2="472.8" stroke="#141414" stroke-width="2.1"/>
<line x1="121.4" y1="479.5" x2="134.2" y2="466.7" stroke="#141414" stroke-width="1.8"/>
<line x1="127.6" y1="479.5" x2="140.4" y2="466.7" stroke="#141414" stroke-width="1.8"/>
<polygon fill="#91a6d9" points="168.45,433 174.05,433 174.05,457.8 176.25,457.8 171.25,466.8 166.25,457.8 168.45,457.8"/>
<polygon fill="#91a6d9" points="288.5,433 294.1,433 294.1,457.8 296.3,457.8 291.3,466.8 286.3,457.8 288.5,457.8"/>
<polygon fill="#91a6d9" points="371,433.4 376.6,433.4 376.6,457.8 378.8,457.8 373.8,466.8 368.8,457.8 371,457.8"/>
<polygon fill="#1ea64d" points="194.55,450 196.45,450 196.45,458.3 198.8,458.3 195.5,467.6 192.2,458.3 194.55,458.3"/>
<polygon fill="#1ea64d" points="199.55,442 201.45,442 201.45,458.3 203.8,458.3 200.5,467.6 197.2,458.3 199.55,458.3"/>
<polygon fill="#1ea64d" points="243.3,435 245.2,435 245.2,458.3 247.55,458.3 244.25,467.6 240.95,458.3 243.3,458.3"/>
<polygon fill="#1ea64d" points="259.05,435 260.95,435 260.95,458.3 263.3,458.3 260,467.6 256.7,458.3 259.05,458.3"/>
<polygon fill="#1ea64d" points="273.3,435 275.2,435 275.2,458.3 277.55,458.3 274.25,467.6 270.95,458.3 273.3,458.3"/>
<g>
<path fill="#e2203a" d="M170,472.8 L165.5,470.2 A5.2,5.2 0 0 1 174.5,470.2 Z"/>
<path fill="#e2203a" d="M170,472.8 L170,478 A5.2,5.2 0 0 1 165.5,470.2 Z"/>
<path fill="#e2203a" d="M170,472.8 L174.5,470.2 A5.2,5.2 0 0 1 170,478 Z"/>
<line x1="170" y1="472.8" x2="165.5" y2="470.2" stroke="#8e1222" stroke-width="0.9"/>
<line x1="170" y1="472.8" x2="174.5" y2="470.2" stroke="#8e1222" stroke-width="0.9"/>
<line x1="170" y1="472.8" x2="170" y2="478" stroke="#8e1222" stroke-width="0.9"/>
<circle cx="170" cy="472.8" r="5.2" fill="none" stroke="#141414" stroke-width="1.15"/>
</g>
<g>
<path fill="#e2203a" d="M194.5,472.8 L190,470.2 A5.2,5.2 0 0 1 199,470.2 Z"/>
<path fill="#e2203a" d="M194.5,472.8 L194.5,478 A5.2,5.2 0 0 1 190,470.2 Z"/>
<path fill="#e2203a" d="M194.5,472.8 L199,470.2 A5.2,5.2 0 0 1 194.5,478 Z"/>
<line x1="194.5" y1="472.8" x2="190" y2="470.2" stroke="#8e1222" stroke-width="0.9"/>
<line x1="194.5" y1="472.8" x2="199" y2="470.2" stroke="#8e1222" stroke-width="0.9"/>
<line x1="194.5" y1="472.8" x2="194.5" y2="478" stroke="#8e1222" stroke-width="0.9"/>
<circle cx="194.5" cy="472.8" r="5.2" fill="none" stroke="#141414" stroke-width="1.15"/>
</g>
<g>
<path fill="#e2203a" d="M248,472.8 L243.5,470.2 A5.2,5.2 0 0 1 252.5,470.2 Z"/>
<path fill="#e2203a" d="M248,472.8 L248,478 A5.2,5.2 0 0 1 243.5,470.2 Z"/>
<path fill="#e2203a" d="M248,472.8 L252.5,470.2 A5.2,5.2 0 0 1 248,478 Z"/>
<line x1="248" y1="472.8" x2="243.5" y2="470.2" stroke="#8e1222" stroke-width="0.9"/>
<line x1="248" y1="472.8" x2="252.5" y2="470.2" stroke="#8e1222" stroke-width="0.9"/>
<line x1="248" y1="472.8" x2="248" y2="478" stroke="#8e1222" stroke-width="0.9"/>
<circle cx="248" cy="472.8" r="5.2" fill="none" stroke="#141414" stroke-width="1.15"/>
</g>
<g>
<path fill="#e2203a" d="M266,472.8 L261.5,470.2 A5.2,5.2 0 0 1 270.5,470.2 Z"/>
<path fill="#e2203a" d="M266,472.8 L266,478 A5.2,5.2 0 0 1 261.5,470.2 Z"/>
<path fill="#d0d0d0" d="M266,472.8 L270.5,470.2 A5.2,5.2 0 0 1 266,478 Z"/>
<line x1="266" y1="472.8" x2="261.5" y2="470.2" stroke="#8e1222" stroke-width="0.9"/>
<line x1="266" y1="472.8" x2="270.5" y2="470.2" stroke="#141414" stroke-width="0.9"/>
<line x1="266" y1="472.8" x2="266" y2="478" stroke="#141414" stroke-width="0.9"/>
<circle cx="266" cy="472.8" r="5.2" fill="none" stroke="#141414" stroke-width="1.15"/>
</g>
<g>
<path fill="#e2203a" d="M311.3,472.8 L306.8,470.2 A5.2,5.2 0 0 1 315.8,470.2 Z"/>
<path fill="#e2203a" d="M311.3,472.8 L311.3,478 A5.2,5.2 0 0 1 306.8,470.2 Z"/>
<path fill="#d0d0d0" d="M311.3,472.8 L315.8,470.2 A5.2,5.2 0 0 1 311.3,478 Z"/>
<line x1="311.3" y1="472.8" x2="306.8" y2="470.2" stroke="#8e1222" stroke-width="0.9"/>
<line x1="311.3" y1="472.8" x2="315.8" y2="470.2" stroke="#141414" stroke-width="0.9"/>
<line x1="311.3" y1="472.8" x2="311.3" y2="478" stroke="#141414" stroke-width="0.9"/>
<circle cx="311.3" cy="472.8" r="5.2" fill="none" stroke="#141414" stroke-width="1.15"/>
</g>
<g>
<path fill="#e2203a" d="M328.2,472.8 L323.7,470.2 A5.2,5.2 0 0 1 332.7,470.2 Z"/>
<path fill="#e2203a" d="M328.2,472.8 L328.2,478 A5.2,5.2 0 0 1 323.7,470.2 Z"/>
<path fill="#d0d0d0" d="M328.2,472.8 L332.7,470.2 A5.2,5.2 0 0 1 328.2,478 Z"/>
<line x1="328.2" y1="472.8" x2="323.7" y2="470.2" stroke="#8e1222" stroke-width="0.9"/>
<line x1="328.2" y1="472.8" x2="332.7" y2="470.2" stroke="#141414" stroke-width="0.9"/>
<line x1="328.2" y1="472.8" x2="328.2" y2="478" stroke="#141414" stroke-width="0.9"/>
<circle cx="328.2" cy="472.8" r="5.2" fill="none" stroke="#141414" stroke-width="1.15"/>
</g>
<g>
<path fill="#e2203a" d="M367.2,472.8 L362.7,470.2 A5.2,5.2 0 0 1 371.7,470.2 Z"/>
<path fill="#e2203a" d="M367.2,472.8 L367.2,478 A5.2,5.2 0 0 1 362.7,470.2 Z"/>
<path fill="#e2203a" d="M367.2,472.8 L371.7,470.2 A5.2,5.2 0 0 1 367.2,478 Z"/>
<line x1="367.2" y1="472.8" x2="362.7" y2="470.2" stroke="#8e1222" stroke-width="0.9"/>
<line x1="367.2" y1="472.8" x2="371.7" y2="470.2" stroke="#8e1222" stroke-width="0.9"/>
<line x1="367.2" y1="472.8" x2="367.2" y2="478" stroke="#8e1222" stroke-width="0.9"/>
<circle cx="367.2" cy="472.8" r="5.2" fill="none" stroke="#141414" stroke-width="1.15"/>
</g>
<polygon fill="#fff200" points="305.2,477.8 306.4,480.84 309.67,481.05 307.15,483.13 307.96,486.3 305.2,484.55 302.44,486.3 303.25,483.13 300.73,481.05 304,480.84"/>
<text x="444" y="458.2" font-size="12.5" textLength="69.8" lengthAdjust="spacingAndGlyphs">12.5 months</text>
<line x1="102.5" y1="506.2" x2="127.7" y2="506.2" stroke="#3a3a3a" stroke-width="1.3"/>
<line x1="134.2" y1="506.2" x2="449.2" y2="506.2" stroke="#3a3a3a" stroke-width="1.3"/>
<line x1="121.2" y1="513" x2="134.6" y2="499.8" stroke="#3a3a3a" stroke-width="1.3"/>
<line x1="127.3" y1="513" x2="140.7" y2="499.8" stroke="#3a3a3a" stroke-width="1.3"/>
<line x1="102.5" y1="499.3" x2="102.5" y2="506.2" stroke="#3a3a3a" stroke-width="1.3"/>
<line x1="160.5" y1="499.3" x2="160.5" y2="506.2" stroke="#3a3a3a" stroke-width="1.3"/>
<text x="160.5" y="522.3" font-size="12.6" font-weight="bold" stroke="#111" stroke-width="0.5" stroke-linejoin="round" textLength="8.2" lengthAdjust="spacingAndGlyphs" text-anchor="middle" fill="#111">6</text>
<line x1="218.25" y1="499.3" x2="218.25" y2="506.2" stroke="#3a3a3a" stroke-width="1.3"/>
<text x="218.25" y="522.3" font-size="12.6" font-weight="bold" stroke="#111" stroke-width="0.5" stroke-linejoin="round" textLength="8.2" lengthAdjust="spacingAndGlyphs" text-anchor="middle" fill="#111">7</text>
<line x1="276" y1="499.3" x2="276" y2="506.2" stroke="#3a3a3a" stroke-width="1.3"/>
<text x="276" y="522.3" font-size="12.6" font-weight="bold" stroke="#111" stroke-width="0.5" stroke-linejoin="round" textLength="8.2" lengthAdjust="spacingAndGlyphs" text-anchor="middle" fill="#111">8</text>
<line x1="333.75" y1="499.3" x2="333.75" y2="506.2" stroke="#3a3a3a" stroke-width="1.3"/>
<text x="333.75" y="522.3" font-size="12.6" font-weight="bold" stroke="#111" stroke-width="0.5" stroke-linejoin="round" textLength="8.2" lengthAdjust="spacingAndGlyphs" text-anchor="middle" fill="#111">9</text>
<line x1="391.5" y1="499.3" x2="391.5" y2="506.2" stroke="#3a3a3a" stroke-width="1.3"/>
<text x="391.5" y="522.3" font-size="12.6" font-weight="bold" stroke="#111" stroke-width="0.5" stroke-linejoin="round" textLength="16.4" lengthAdjust="spacingAndGlyphs" text-anchor="middle" fill="#111">10</text>
<line x1="449.25" y1="499.3" x2="449.25" y2="506.2" stroke="#3a3a3a" stroke-width="1.3"/>
<text x="449.25" y="522.3" font-size="12.6" font-weight="bold" stroke="#111" stroke-width="0.5" stroke-linejoin="round" textLength="16.4" lengthAdjust="spacingAndGlyphs" text-anchor="middle" fill="#111">11</text>
<text x="102.7" y="522.3" font-size="12.6" font-weight="bold" stroke="#111" stroke-width="0.5" stroke-linejoin="round" textLength="8.2" lengthAdjust="spacingAndGlyphs" text-anchor="middle" fill="#111">0</text>
<text x="24.2" y="539.6" font-size="12.6" font-weight="bold" stroke="#111" stroke-width="0.5" stroke-linejoin="round" textLength="29.6" lengthAdjust="spacingAndGlyphs" fill="#111">HCT</text>
<text x="75.6" y="539.6" font-size="12.6" font-weight="bold" stroke="#111" stroke-width="0.5" stroke-linejoin="round" textLength="56" lengthAdjust="spacingAndGlyphs" fill="#111">Relapse</text>
<text x="204.7" y="539.6" font-size="12.6" font-weight="bold" stroke="#111" stroke-width="0.5" stroke-linejoin="round" textLength="147.6" lengthAdjust="spacingAndGlyphs" fill="#111">Months Post Relapse</text>
<line x1="20" y1="547.8" x2="489" y2="547.8" stroke="#c8c8c8" stroke-width="1"/>
<text x="0.8" y="565.5" font-size="12.6" font-weight="bold" stroke="#111" stroke-width="0.5" stroke-linejoin="round" textLength="51.2" lengthAdjust="spacingAndGlyphs" fill="#111">Legend</text>
<text x="56.5" y="585.4" font-size="12.3" textLength="67.4" lengthAdjust="spacingAndGlyphs">Morphology</text>
<text x="47" y="613.6" font-size="12" textLength="26.8" lengthAdjust="spacingAndGlyphs">Flow</text>
<text x="25.4" y="628.1" font-size="12" textLength="56.4" lengthAdjust="spacingAndGlyphs">cytometry</text>
<text x="90.2" y="628.1" font-size="12" textLength="74.6" lengthAdjust="spacingAndGlyphs">Cytogenetics</text>
<line x1="88.8" y1="591" x2="88.8" y2="598.5" stroke="#141414" stroke-width="1.1" stroke-dasharray="1.3 1.6"/>
<line x1="83.6" y1="609.8" x2="78.2" y2="614.2" stroke="#141414" stroke-width="1.1" stroke-dasharray="1.3 1.6"/>
<line x1="94.2" y1="609.8" x2="99.8" y2="614.2" stroke="#141414" stroke-width="1.1" stroke-dasharray="1.3 1.6"/>
<g>
<path fill="#ffffff" d="M88.8,604.9 L84.47,602.4 A5,5 0 0 1 93.13,602.4 Z"/>
<path fill="#ffffff" d="M88.8,604.9 L88.8,609.9 A5,5 0 0 1 84.47,602.4 Z"/>
<path fill="#ffffff" d="M88.8,604.9 L93.13,602.4 A5,5 0 0 1 88.8,609.9 Z"/>
<line x1="88.8" y1="604.9" x2="84.47" y2="602.4" stroke="#141414" stroke-width="0.9"/>
<line x1="88.8" y1="604.9" x2="93.13" y2="602.4" stroke="#141414" stroke-width="0.9"/>
<line x1="88.8" y1="604.9" x2="88.8" y2="609.9" stroke="#141414" stroke-width="0.9"/>
<circle cx="88.8" cy="604.9" r="5" fill="none" stroke="#141414" stroke-width="1.2"/>
</g>
<rect x="24.8" y="640.3" width="7.6" height="7.6" fill="#ee1c25" stroke="#b01018" stroke-width="0.6"/>
<rect x="25.1" y="655.0" width="6.9" height="6.9" fill="#fff" stroke="#141414" stroke-width="1.1"/>
<rect x="24.6" y="668.0" width="7.6" height="7.4" fill="#c4c4c4"/>
<text x="37.6" y="649.5" font-size="12.2" textLength="46.6" lengthAdjust="spacingAndGlyphs">Relapse</text>
<text x="37.6" y="662.8" font-size="12.2" textLength="60" lengthAdjust="spacingAndGlyphs">Remission</text>
<text x="37.6" y="675.8" font-size="12.2" textLength="150.6" lengthAdjust="spacingAndGlyphs">Unavailable/nondiagnostic</text>
<polygon fill="#91a6d9" points="216.9,551.8 222.1,551.8 222.1,576 224.6,576 219.5,584.6 214.4,576 216.9,576"/>
<polygon fill="#1ea64d" points="218.65,590.8 220.55,590.8 220.55,599 223,599 219.6,607.2 216.2,599 218.65,599"/>
<polygon fill="#1ea64d" points="218.65,612.3 220.55,612.3 220.55,628.7 223,628.7 219.6,636.9 216.2,628.7 218.65,628.7"/>
<polygon fill="#1ea64d" points="218.65,643.4 220.55,643.4 220.55,666.4 223,666.4 219.6,675.4 216.2,666.4 218.65,666.4"/>
<rect x="206.2" y="679.2" width="27.3" height="5.1" fill="#1aa3e3"/>
<text x="230.8" y="571.2" font-size="10.8" textLength="71" lengthAdjust="spacingAndGlyphs">Chemotherapy</text>
<text x="231.4" y="602.7" font-size="10.8">CTL, Dose &lt; 10<tspan font-size="6.0" dy="-4.2">8</tspan></text>
<text x="231.4" y="627.8" font-size="10.8">CTL, Dose 10<tspan font-size="6.0" dy="-4.2">8</tspan><tspan dy="4.2">-10</tspan><tspan font-size="6.0" dy="-4.2">9</tspan></text>
<text x="231.4" y="662.4" font-size="10.8">CTL, Dose &gt; 10<tspan font-size="6.0" dy="-4.2">9</tspan></text>
<text x="238.3" y="685" font-size="10.8" textLength="59.4" lengthAdjust="spacingAndGlyphs">Interleukin-2</text>
<polygon fill="#1d9ad8" points="353.7,564.2 354.76,567.04 357.79,567.17 355.41,569.06 356.23,571.98 353.7,570.3 351.17,571.98 351.99,569.06 349.61,567.17 352.64,567.04"/>
<polygon fill="#fff200" points="353.7,590.1 354.76,592.94 357.79,593.07 355.41,594.96 356.23,597.88 353.7,596.2 351.17,597.88 351.99,594.96 349.61,593.07 352.64,592.94"/>
<polygon fill="#9a7b6a" points="353.7,617 354.76,619.84 357.79,619.97 355.41,621.86 356.23,624.78 353.7,623.1 351.17,624.78 351.99,621.86 349.61,619.97 352.64,619.84"/>
<text x="365.4" y="572.3" font-size="10.4" textLength="101.4" lengthAdjust="spacingAndGlyphs">Histologic oral GVHD</text>
<text x="365.4" y="598.3" font-size="10.4" textLength="102.4" lengthAdjust="spacingAndGlyphs">Histologic skin GVHD</text>
<text x="364.4" y="625.2" font-size="10.4" textLength="98.2" lengthAdjust="spacingAndGlyphs">Histologic gut GVHD</text>
<polygon fill="#141414" points="378.8,636.65 384.7,646.3 378.8,655.95 372.9,646.3"/>
<text x="391.3" y="649.6" font-size="11.7" textLength="34" lengthAdjust="spacingAndGlyphs">Death</text>
</svg>
</body></html>
